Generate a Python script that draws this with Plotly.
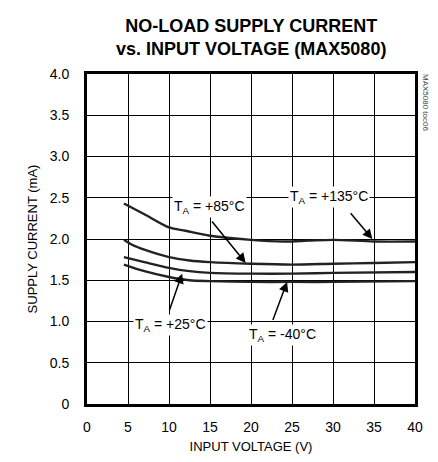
import plotly.graph_objects as go

# Data
v_135 = [4.5, 7, 10, 12, 15, 20, 24, 27, 30, 35, 40]
i_135 = [2.43, 2.30, 2.14, 2.10, 2.04, 1.99, 1.97, 1.98, 1.99, 1.97, 1.97]
v_85 = [4.5, 5.5, 7, 10, 12.5, 15, 20, 25, 30, 35, 40]
i_85 = [1.99, 1.93, 1.87, 1.78, 1.74, 1.72, 1.70, 1.69, 1.70, 1.71, 1.72]
v_25 = [4.5, 7, 10, 12.5, 15, 20, 25, 30, 40]
i_25 = [1.78, 1.72, 1.65, 1.61, 1.59, 1.58, 1.58, 1.59, 1.60]
v_m40 = [4.5, 7, 10, 12.5, 15, 20, 25, 30, 40]
i_m40 = [1.69, 1.61, 1.54, 1.50, 1.49, 1.48, 1.48, 1.48, 1.49]

x_ticks = [0, 5, 10, 15, 20, 25, 30, 35, 40]
y_ticks = [0, 0.5, 1.0, 1.5, 2.0, 2.5, 3.0, 3.5, 4.0]
y_ticktext = ["0", "0.5", "1.0", "1.5", "2.0", "2.5", "3.0", "3.5", "4.0"]

labels = ["T<sub>A</sub> = +135°C", "T<sub>A</sub> = +85°C", "T<sub>A</sub> = +25°C", "T<sub>A</sub> = -40°C"]
label_pos = [(29.5, 2.51), (14.9, 2.39), (10.2, 0.96), (23.8, 0.84)]
arrow_from = [(32.0, 2.33), (15.1, 2.23), (10.0, 1.12), (22.6, 1.00)]
arrow_to = [(34.8, 2.00), (19.35, 1.71), (11.6, 1.58), (24.4, 1.48)]

FONT = "Liberation Sans, Arial, sans-serif"
LINE = "#222222"

fig = go.Figure()
for vx, iy in [(v_135, i_135), (v_85, i_85), (v_25, i_25), (v_m40, i_m40)]:
    fig.add_trace(go.Scatter(x=vx, y=iy, mode="lines",
                             line=dict(color=LINE, width=2.4, shape="spline", smoothing=0.8),
                             showlegend=False, hoverinfo="skip"))

annotations = []
for (fx, fy), (tx, ty) in zip(arrow_from, arrow_to):
    annotations.append(dict(x=tx, y=ty, ax=fx, ay=fy, xref="x", yref="y", axref="x", ayref="y",
                            text="", showarrow=True, arrowhead=2, arrowsize=1.3,
                            arrowwidth=1.5, arrowcolor="black"))
for txt, (lx, ly) in zip(labels, label_pos):
    annotations.append(dict(x=lx, y=ly, xref="x", yref="y", text=txt, showarrow=False,
                            font=dict(family=FONT, size=14, color="black"),
                            bgcolor="white", borderpad=1))

annotations.append(dict(x=1.0, y=1.0, xref="paper", yref="paper", xanchor="left", yanchor="top",
                        xshift=4, yshift=2, text="MAX5080 toc06", showarrow=False, textangle=90,
                        font=dict(family=FONT, size=8, color="#444444")))

annotations.append(dict(x=0.5, y=1.0, xref="paper", yref="paper", xanchor="center", yanchor="bottom",
                        yshift=13, showarrow=False,
                        text="<b>NO-LOAD SUPPLY CURRENT<br>vs. INPUT VOLTAGE (MAX5080)</b>",
                        font=dict(family=FONT, size=18, color="black")))

fig.update_layout(
    width=430, height=454,
    margin=dict(l=79, r=23, t=66, b=58),
    paper_bgcolor="white", plot_bgcolor="white",
    font=dict(family=FONT, size=14, color="black"),
    annotations=annotations,
)
fig.update_xaxes(range=[0, 40], tickvals=x_ticks, showgrid=True, gridcolor="black", gridwidth=1,
                 showline=True, linecolor="black", linewidth=3, mirror=True, zeroline=False,
                 automargin=False,
                 ticks="", ticklabelstandoff=8, tickfont=dict(size=14, family=FONT),
                 title=dict(text="INPUT VOLTAGE (V)", standoff=9, font=dict(size=13, family=FONT)))
fig.update_yaxes(range=[0, 4], tickvals=y_ticks, ticktext=y_ticktext, showgrid=True, gridcolor="black",
                 gridwidth=1, showline=True, linecolor="black", linewidth=3, mirror=True, zeroline=False,
                 automargin=False,
                 ticks="", ticklabelstandoff=12, tickfont=dict(size=14, family=FONT),
                 title=dict(text="SUPPLY CURRENT (mA)", standoff=10, font=dict(size=13, family=FONT)))

fig.write_html("out.html")
